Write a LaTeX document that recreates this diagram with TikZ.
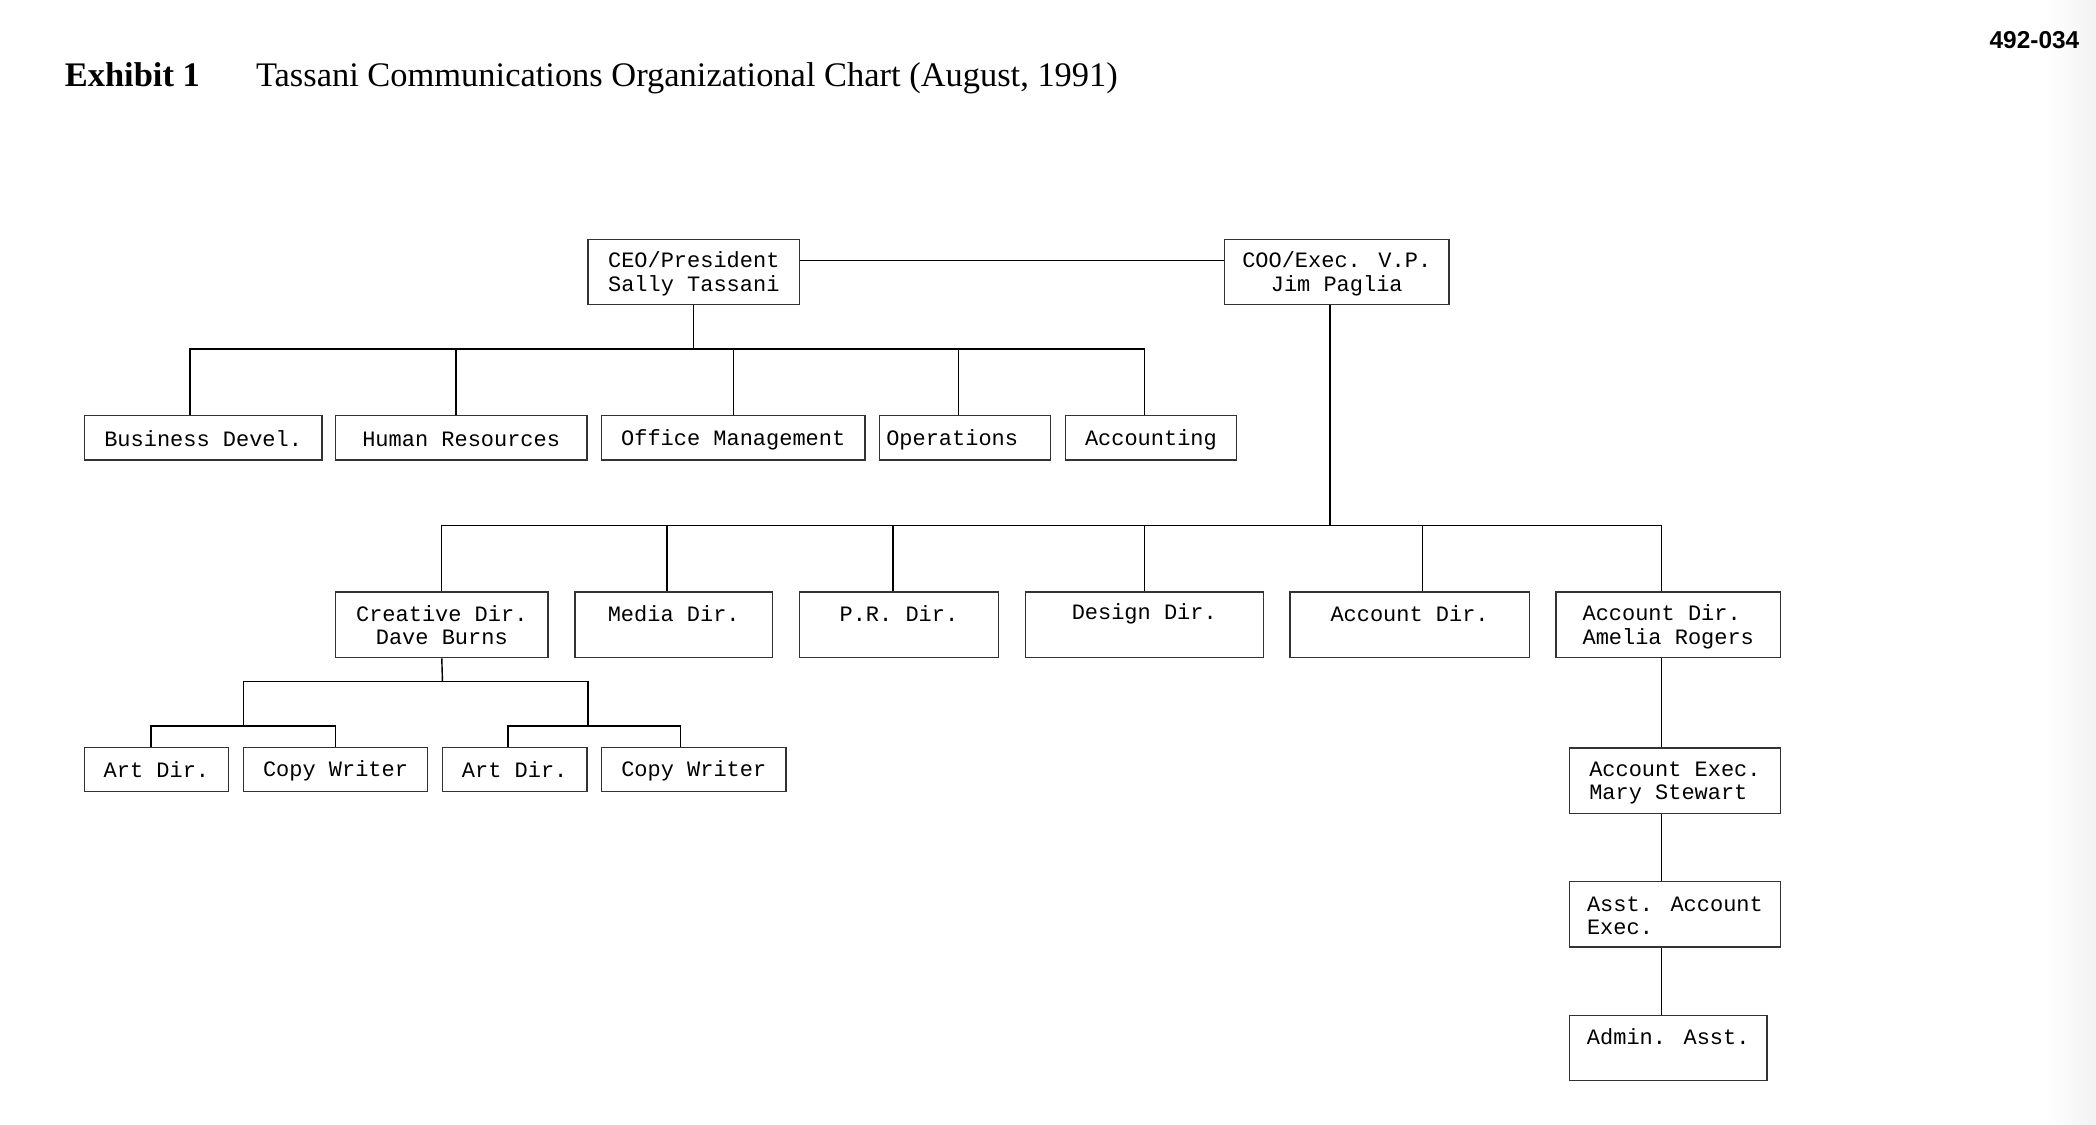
\documentclass[tikz,border=0pt]{standalone}
\usepackage{fontspec}
\setmainfont{Liberation Serif}
\newfontfamily\boxfont{Liberation Mono}
\newfontfamily\numfont{Liberation Sans}
\def\pu{0.013367cm}
\newcommand\bs{\rule[-0.85pt]{0pt}{6.45pt}}
\newcommand\two[2]{\bs#1\\\bs#2}

\begin{document}
\begin{tikzpicture}[x=\pu,y=-\pu,thin,
  box/.style={draw=black!80,rectangle,inner sep=0pt,align=center,
    font=\boxfont\fontsize{6.25pt}{6.65pt}\selectfont,minimum height=33*\pu,
    execute at begin node=\bs},
  tall/.style={box,minimum height=49*\pu},
  head/.style={anchor=base west,inner sep=0pt,font=\fontsize{9.8pt}{11pt}\selectfont}]
\useasboundingbox (0,0) rectangle (1568,841);
\shade[left color=white,right color=black!5] (1530,0) rectangle (1568,841);

\node[head,font=\fontsize{9.8pt}{11pt}\selectfont\bfseries] (exh) at (48,65) {Exhibit 1};
\node[head] (title) at (191,65) {Tassani Communications Organizational Chart (August, 1991)};
\node[anchor=base east,inner sep=0pt,font=\numfont\fontsize{6.95pt}{8pt}\selectfont\bfseries] (code) at (1556,36) {492-034};

% top
\node[tall,minimum width=158*\pu] (ceo) at (519,203.5) {\two{CEO/President}{Sally Tassani}};
\node[tall,minimum width=168*\pu] (coo) at (1000,203.5) {\two{COO/Exec. V.P.}{Jim Paglia}};

% staff under the CEO
\node[box,minimum width=178*\pu] (bd) at (152,327.5) {Business Devel.};
\node[box,minimum width=188*\pu] (hr) at (345,327.5) {Human Resources};
\node[box,minimum width=197*\pu] (om) at (548.5,327.5) {Office Management};
\node[box,align=left,text width=118*\pu,inner xsep=5*\pu] (ops) at (722,327.5) {Operations};
\node[box,minimum width=128*\pu] (acc) at (861,327.5) {Accounting};

% directors
\node[tall,minimum width=159*\pu] (cre) at (330.5,467.5) {\two{Creative Dir.}{Dave Burns}};
\node[tall,minimum width=148*\pu] (med) at (504,467.5) {\two{Media Dir.}{}};
\node[tall,minimum width=149*\pu] (pr) at (672.5,467.5) {\two{P.R. Dir.}{}};
\node[tall,minimum width=178*\pu] (des) at (856,467.5) {\two{Design Dir.}{}};
\node[tall,minimum width=179*\pu] (ad) at (1054.5,467.5) {\two{Account Dir.}{}};
\node[tall,align=left,minimum width=168*\pu] (ame) at (1248,467.5) {\two{Account Dir.}{Amelia Rogers}};

% creative teams
\node[box,minimum width=108*\pu] (art1) at (117,575.5) {Art Dir.};
\node[box,minimum width=138*\pu] (cw1) at (251,575.5) {Copy Writer};
\node[box,minimum width=108*\pu] (art2) at (385,575.5) {Art Dir.};
\node[box,minimum width=138*\pu] (cw2) at (519,575.5) {Copy Writer};

% account chain
\node[tall,align=left,minimum width=158*\pu] (ae) at (1253,584) {\two{Account Exec.}{Mary Stewart}};
\node[tall,align=left,minimum width=158*\pu] (aae) at (1253,684) {\two{Asst. Account}{Exec.}};
\node[tall,align=left,minimum width=148*\pu] (adm) at (1248,784) {\two{Admin. Asst.}{}};

\coordinate (busA) at (519,261);
\coordinate (busB) at (995,393);
\coordinate (busC) at (331,510);
\coordinate (subA) at (182,543);
\coordinate (subB) at (440,543);
\coordinate (spine) at (1243,0);

\draw ([yshift=8.5*\pu]ceo.east) -- ([yshift=8.5*\pu]coo.west);
\draw (ceo.south) -- (busA);
\draw (busA) -| ([xshift=-10*\pu]bd.north);
\draw (busA) -| ([xshift=-4*\pu]hr.north);
\draw (busA) -| (om.north);
\draw (busA) -| ([xshift=-5*\pu]ops.north);
\draw (busA) -| ([xshift=-5*\pu]acc.north);

\draw ([xshift=-5*\pu]coo.south) -- (busB);
\draw (busB) -| (cre.north);
\draw (busB) -| ([xshift=-5*\pu]med.north);
\draw (busB) -| ([xshift=-4.5*\pu]pr.north);
\draw (busB) -| (des.north);
\draw (busB) -| ([xshift=9.5*\pu]ad.north);
\draw (busB) -| (ame.north -| spine);

\draw (cre.south) -- (busC);
\draw (busC) -| (subA);
\draw (busC) -| (subB);
\draw (subA) -| ([xshift=-4*\pu]art1.north);
\draw (subA) -| (cw1.north);
\draw (subB) -| ([xshift=-5*\pu]art2.north);
\draw (subB) -| ([xshift=-10*\pu]cw2.north);

\draw (ame.south -| spine) -- (ae.north -| spine);
\draw (ae.south -| spine) -- (aae.north -| spine);
\draw (aae.south -| spine) -- (adm.north -| spine);
\end{tikzpicture}
\end{document}
